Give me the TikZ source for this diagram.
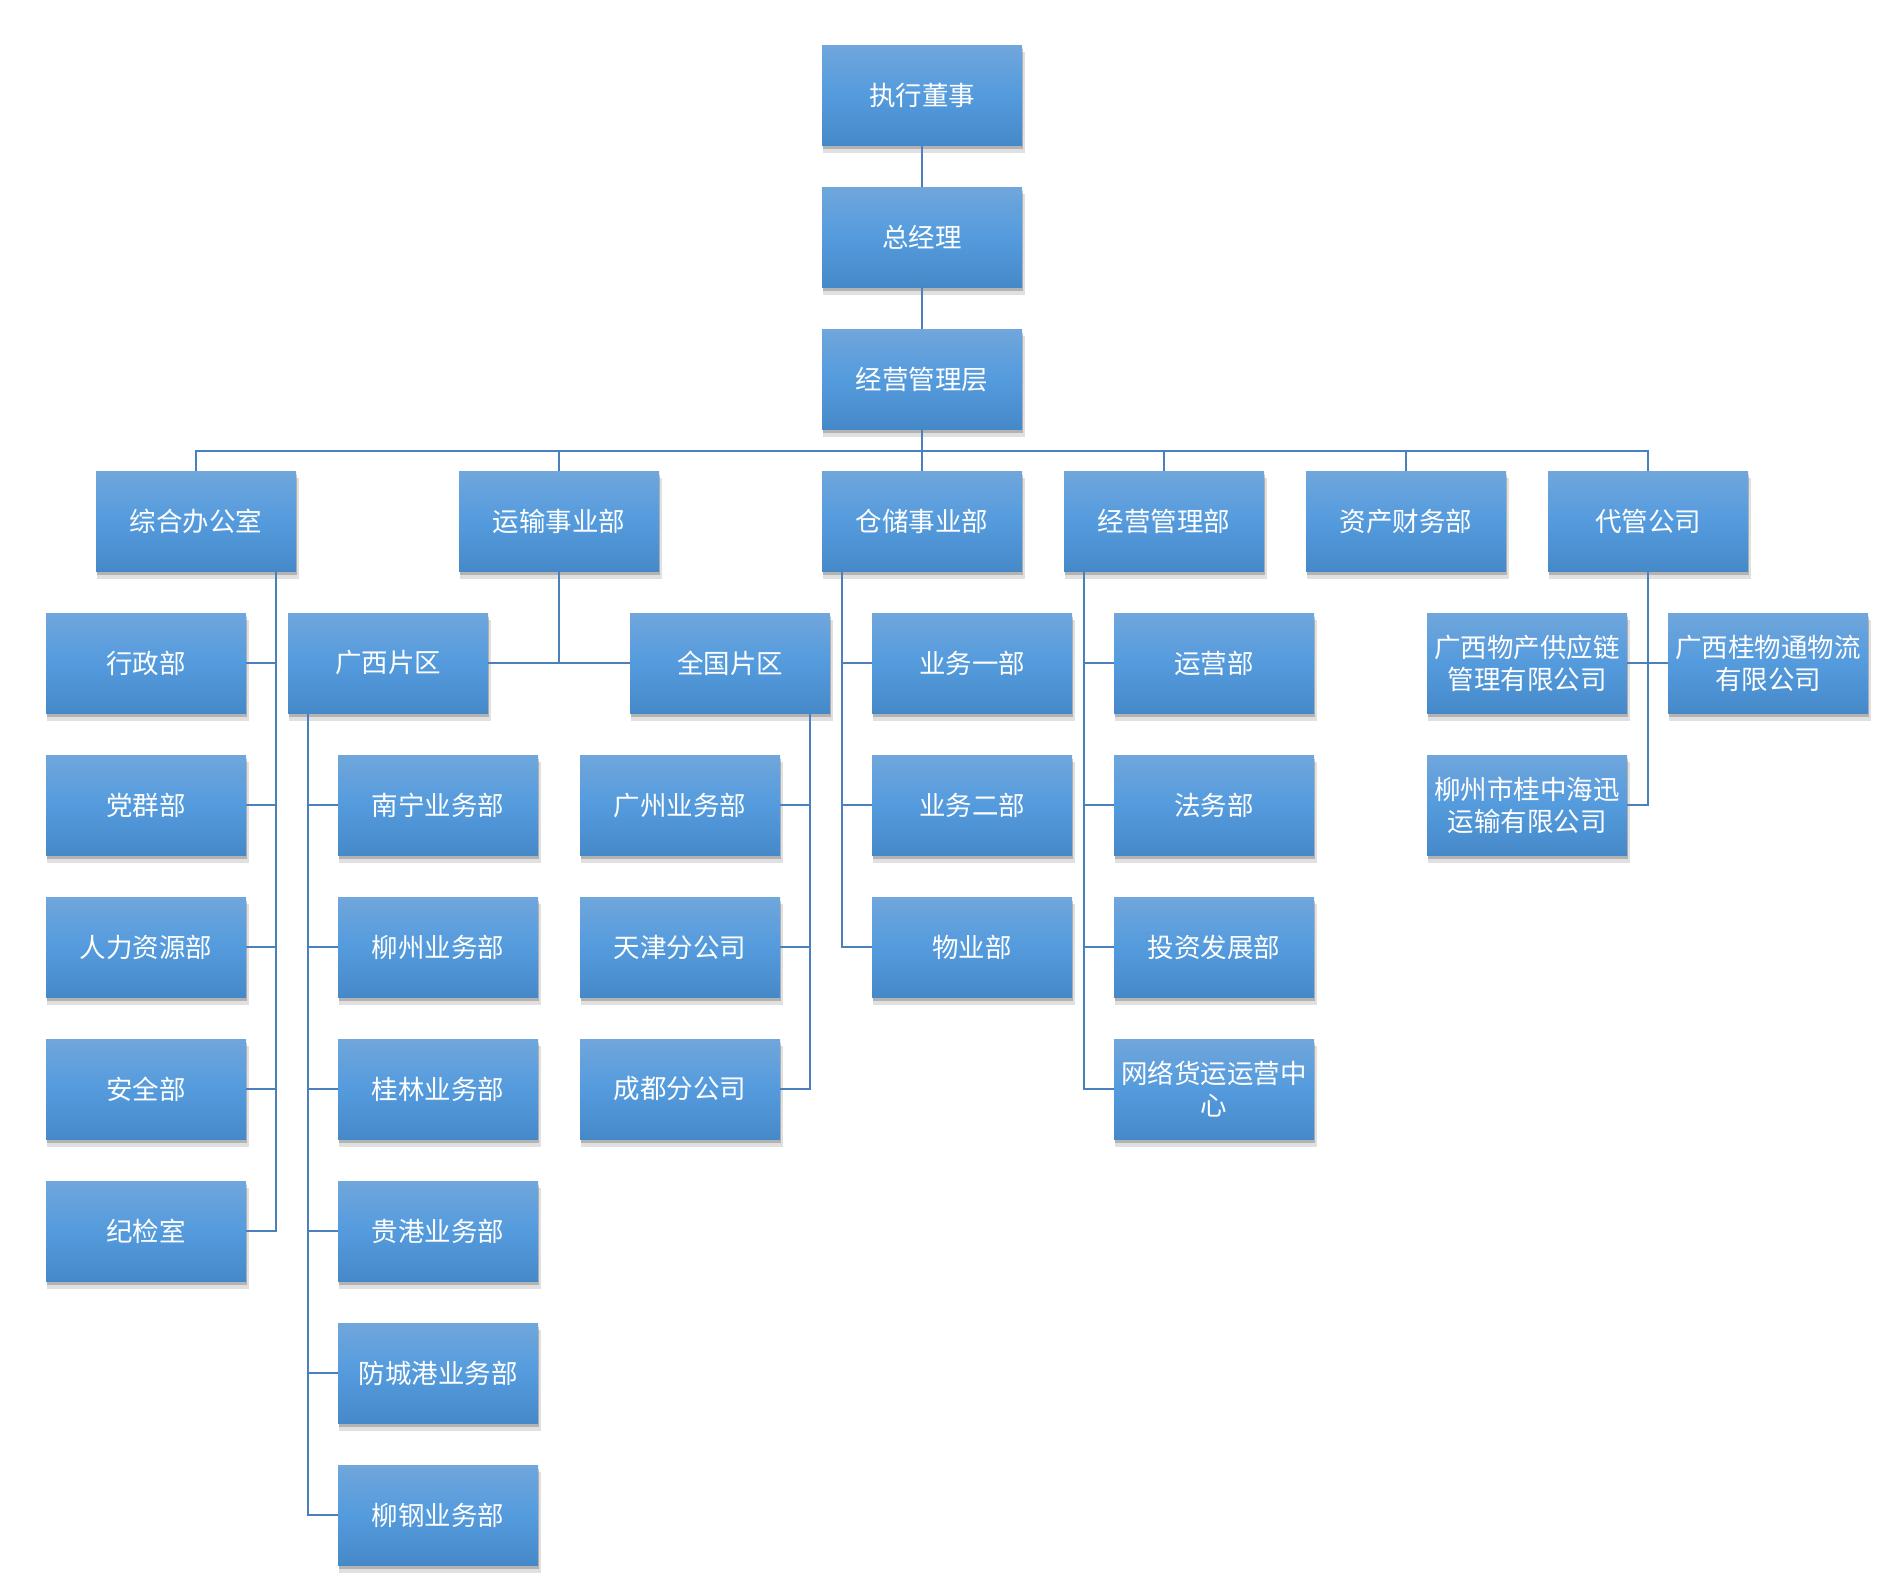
\documentclass[tikz,border=0pt]{standalone}
\usepackage{fontspec}
\newfontfamily\cjk{Noto Sans CJK SC}
\usepackage{xcolor}
\definecolor{boxtop}{RGB}{112,166,220}
\definecolor{boxmid}{RGB}{84,155,221}
\definecolor{boxbot}{RGB}{70,137,201}
\definecolor{linkblue}{RGB}{74,128,189}
\usetikzlibrary{positioning,shadows}

\begin{document}
\begin{tikzpicture}[x=1pt, y=-1pt,
    unit/.style={rectangle, minimum width=200pt, minimum height=100pt, inner sep=0pt,
        top color=boxtop, bottom color=boxbot, middle color=boxmid, text=white, align=center,
        font=\cjk\fontsize{26.5}{32}\selectfont,
        drop shadow={shadow xshift=2pt, shadow yshift=-7pt, shadow scale=1.01, opacity=0.12, fill=black},
        drop shadow={shadow xshift=1pt, shadow yshift=-4pt, opacity=0.3, fill=black!70}},
    link/.style={line width=2.2pt, linkblue}]
			\useasboundingbox (0,0) rectangle (1902,1590);
			\node[unit] (zxds) at (922,95) {执行董事};
			\node[unit] (zjl) at (922,237) {总经理};
			\node[unit] (jyglc) at (922,379) {经营管理层};
			\node[unit] (zhbgs) at (196,521) {综合办公室};
			\node[unit] (yssyb) at (559,521) {运输事业部};
			\node[unit] (ccsyb) at (922,521) {仓储事业部};
			\node[unit] (jyglb) at (1164,521) {经营管理部};
			\node[unit] (zccwb) at (1406,521) {资产财务部};
			\node[unit] (dggs) at (1648,521) {代管公司};
			\node[unit] (xzb) at (146,663) {行政部};
			\node[unit] (dqb) at (146,805) {党群部};
			\node[unit] (rlzyb) at (146,947) {人力资源部};
			\node[unit] (aqb) at (146,1089) {安全部};
			\node[unit] (jjs) at (146,1231) {纪检室};
			\node[unit] (gxpq) at (388,663) {广西片区};
			\node[unit] (qgpq) at (730,663) {全国片区};
			\node[unit] (nnyw) at (438,805) {南宁业务部};
			\node[unit] (lzyw) at (438,947) {柳州业务部};
			\node[unit] (glyw) at (438,1089) {桂林业务部};
			\node[unit] (ggyw) at (438,1231) {贵港业务部};
			\node[unit] (fcgyw) at (438,1373) {防城港业务部};
			\node[unit] (lgyw) at (438,1515) {柳钢业务部};
			\node[unit] (gzyw) at (680,805) {广州业务部};
			\node[unit] (tjfgs) at (680,947) {天津分公司};
			\node[unit] (cdfgs) at (680,1089) {成都分公司};
			\node[unit] (yw1) at (972,663) {业务一部};
			\node[unit] (yw2) at (972,805) {业务二部};
			\node[unit] (wyb) at (972,947) {物业部};
			\node[unit] (yyb) at (1214,663) {运营部};
			\node[unit] (fwb) at (1214,805) {法务部};
			\node[unit] (tzfzb) at (1214,947) {投资发展部};
			\node[unit] (wlhy) at (1214,1089) {网络货运运营中\\心};
			\node[unit] (gxwc) at (1527,663) {广西物产供应链\\管理有限公司};
			\node[unit] (gwt) at (1768,663) {广西桂物通物流\\有限公司};
			\node[unit] (lzhx) at (1527,805) {柳州市桂中海迅\\运输有限公司};
			\coordinate (bus) at (922,451);
			\coordinate (zhx) at ([xshift=-20pt]zhbgs.south east);
			\coordinate (gxx) at ([xshift=20pt]gxpq.south west);
			\coordinate (qgx) at ([xshift=-20pt]qgpq.south east);
			\coordinate (ccx) at ([xshift=20pt]ccsyb.south west);
			\coordinate (jyx) at ([xshift=20pt]jyglb.south west);
			\draw[link] (zxds) -- (zjl);
			\draw[link] (zjl) -- (jyglc);
			\draw[link] (jyglc) -- (bus);
			\draw[link] (zhbgs.north) -- (zhbgs.north |- bus) -- (dggs.north |- bus) -- (dggs.north);
			\draw[link] (yssyb.north) -- (yssyb.north |- bus);
			\draw[link] (ccsyb.north) -- (ccsyb.north |- bus);
			\draw[link] (jyglb.north) -- (jyglb.north |- bus);
			\draw[link] (zccwb.north) -- (zccwb.north |- bus);
			\draw[link] (zhx) |- (jjs.east);
			\draw[link] (xzb.east) -- (xzb.east -| zhx);
			\draw[link] (dqb.east) -- (dqb.east -| zhx);
			\draw[link] (rlzyb.east) -- (rlzyb.east -| zhx);
			\draw[link] (aqb.east) -- (aqb.east -| zhx);
			\draw[link] (yssyb.south) -- (yssyb.south |- gxpq.east);
			\draw[link] (gxpq.east) -- (qgpq.west);
			\draw[link] (gxx) |- (lgyw.west);
			\draw[link] (nnyw.west) -- (nnyw.west -| gxx);
			\draw[link] (lzyw.west) -- (lzyw.west -| gxx);
			\draw[link] (glyw.west) -- (glyw.west -| gxx);
			\draw[link] (ggyw.west) -- (ggyw.west -| gxx);
			\draw[link] (fcgyw.west) -- (fcgyw.west -| gxx);
			\draw[link] (qgx) |- (cdfgs.east);
			\draw[link] (gzyw.east) -- (gzyw.east -| qgx);
			\draw[link] (tjfgs.east) -- (tjfgs.east -| qgx);
			\draw[link] (ccx) |- (wyb.west);
			\draw[link] (yw1.west) -- (yw1.west -| ccx);
			\draw[link] (yw2.west) -- (yw2.west -| ccx);
			\draw[link] (jyx) |- (wlhy.west);
			\draw[link] (yyb.west) -- (yyb.west -| jyx);
			\draw[link] (fwb.west) -- (fwb.west -| jyx);
			\draw[link] (tzfzb.west) -- (tzfzb.west -| jyx);
			\draw[link] (dggs.south) |- (lzhx.east);
			\draw[link] (gxwc.east) -- (gwt.west);
		\end{tikzpicture}
\end{document}
